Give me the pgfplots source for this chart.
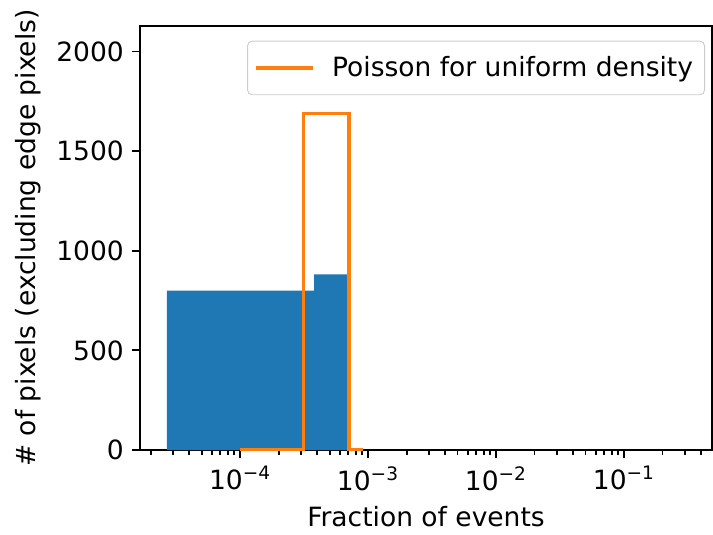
\documentclass[border=0pt]{standalone}
\usepackage{fontspec}
\setmainfont{DejaVu Sans}
\usepackage{pgfplots}
\pgfplotsset{compat=1.18}
\definecolor{mplblue}{HTML}{1F77B4}
\definecolor{mplorange}{HTML}{FF7F0E}
\begin{document}
\begin{tikzpicture}
\begin{axis}[
  scale only axis,
  width=248.2pt, height=184pt,
  xmode=log,
  xmin=1.65e-5, xmax=0.487,
  ymin=0, ymax=2128,
  axis line style={line width=0.8pt},
  tick style={line width=0.8pt, black},
  tick align=outside,
  xtick pos=bottom, ytick pos=left,
  major tick length=3.5pt, minor tick length=2pt,
  xtick={1e-4,1e-3,1e-2,1e-1},
  xticklabels={10\textsuperscript{−4},10\textsuperscript{−3},10\textsuperscript{−2},10\textsuperscript{−1}},
  minor xtick={2e-5,3e-5,4e-5,5e-5,6e-5,7e-5,8e-5,9e-5,
               2e-4,3e-4,4e-4,5e-4,6e-4,7e-4,8e-4,9e-4,
               2e-3,3e-3,4e-3,5e-3,6e-3,7e-3,8e-3,9e-3,
               2e-2,3e-2,4e-2,5e-2,6e-2,7e-2,8e-2,9e-2,
               2e-1,3e-1,4e-1},
  ytick={0,500,1000,1500,2000},
  /pgf/number format/assume math mode=true,
  /pgf/number format/1000 sep={},
  tick label style={font=\fontsize{11.5}{13.8}\selectfont},
  label style={font=\fontsize{11.5}{13.8}\selectfont},
  xlabel={Fraction of events},
  ylabel={\# of pixels (excluding edge pixels)},
  legend style={at={(0.9878,0.9653)}, anchor=north east,
    draw=black!20, rounded corners=2pt, fill=white, fill opacity=0.8, text opacity=1,
    font=\fontsize{11.5}{13.8}\selectfont, inner xsep=3pt, inner ysep=4.5pt},
  legend image code/.code={\draw[#1] (0pt,0pt) -- (24.6pt,0pt); \path (30.2pt,0pt);},
  legend cell align=left,
]
\addplot[fill=mplblue, draw=none, forget plot] coordinates {
  (2.67e-5,0) (2.67e-5,800) (3.79e-4,800) (3.79e-4,881) (6.89e-4,881) (6.89e-4,0)
} -- cycle;
\addplot[mplorange, line width=1.5pt] coordinates {
  (1e-4,0) (3.13e-4,0) (3.13e-4,1690) (7.11e-4,1690) (7.11e-4,0) (9.14e-4,0)
};
\addlegendentry{Poisson for uniform density}
\end{axis}
\useasboundingbox ([shift={(-60.76pt,-36pt)}]current axis.south west) rectangle ([shift={(0.434pt,11.28pt)}]current axis.north east);
\end{tikzpicture}
\end{document}
